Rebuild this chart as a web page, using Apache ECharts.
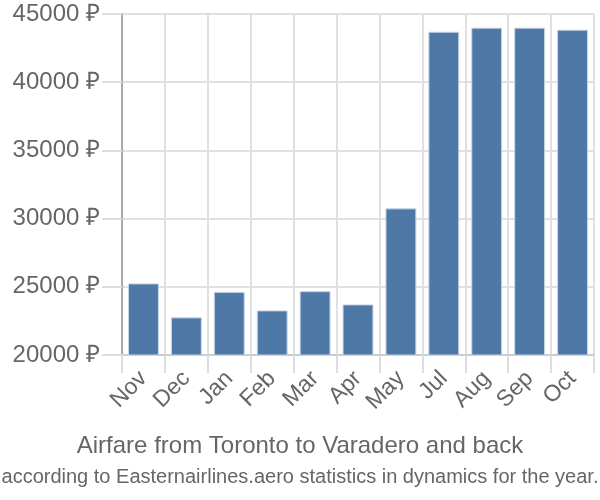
<!DOCTYPE html>
<html>
<head>
<meta charset="utf-8">
<script src="https://cdn.jsdelivr.net/npm/echarts@6/dist/echarts.min.js"></script>
<style>html,body{margin:0;padding:0;background:#fff}#c{width:600px;height:500px}</style>
</head>
<body>
<div id="c"></div>
<script>
var categories = ['Nov','Dec','Jan','Feb','Mar','Apr','May','Jul','Aug','Sep','Oct'];
var prices = [25250, 22760, 24630, 23270, 24680, 23710, 30750, 43700, 44000, 44000, 43850];
var titleText = 'Airfare from Toronto to Varadero and back';
var subtitleText = 'according to Easternairlines.aero statistics in dynamics for the year.';

var chart = echarts.init(document.getElementById('c'), null, {renderer: 'canvas'});
chart.setOption({
  animation: false,
  textStyle: {fontFamily: 'Liberation Sans'},
  grid: {left: 122, right: 6, top: 14, bottom: 145, containLabel: false},
  graphic: [
    {type: 'text', left: 'center', top: 434, style: {text: titleText, fontSize: 24, fill: '#666', fontFamily: 'Liberation Sans'}},
    {type: 'text', left: 'center', top: 467, style: {text: subtitleText, fontSize: 20, fill: '#666', fontFamily: 'Liberation Sans'}}
  ],
  xAxis: {
    type: 'category',
    data: categories,
    boundaryGap: true,
    axisLine: {show: true, lineStyle: {color: '#ccc', width: 2}},
    axisTick: {show: true, length: 18, lineStyle: {color: '#ddd', width: 2}},
    splitLine: {show: true, interval: 0, lineStyle: {color: '#e0e0e0', width: 2}},
    axisLabel: {rotate: 45, interval: 0, margin: 20, fontSize: 23, color: '#666'}
  },
  yAxis: {
    type: 'value',
    min: 20000, max: 45000, interval: 5000,
    axisLine: {show: true, lineStyle: {color: '#aaa', width: 2}},
    axisTick: {show: true, length: 20, lineStyle: {color: '#ddd', width: 2}},
    splitLine: {show: true, lineStyle: {color: '#e0e0e0', width: 2}},
    axisLabel: {margin: 22, fontSize: 24, color: '#666', formatter: function(v){return v + ' ₽';}}
  },
  series: [{
    type: 'bar',
    data: prices,
    barCategoryGap: '28%',
    itemStyle: {color: '#4e79a7', borderColor: '#c8d6e6', borderWidth: 1}
  }]
});
</script>
</body>
</html>
